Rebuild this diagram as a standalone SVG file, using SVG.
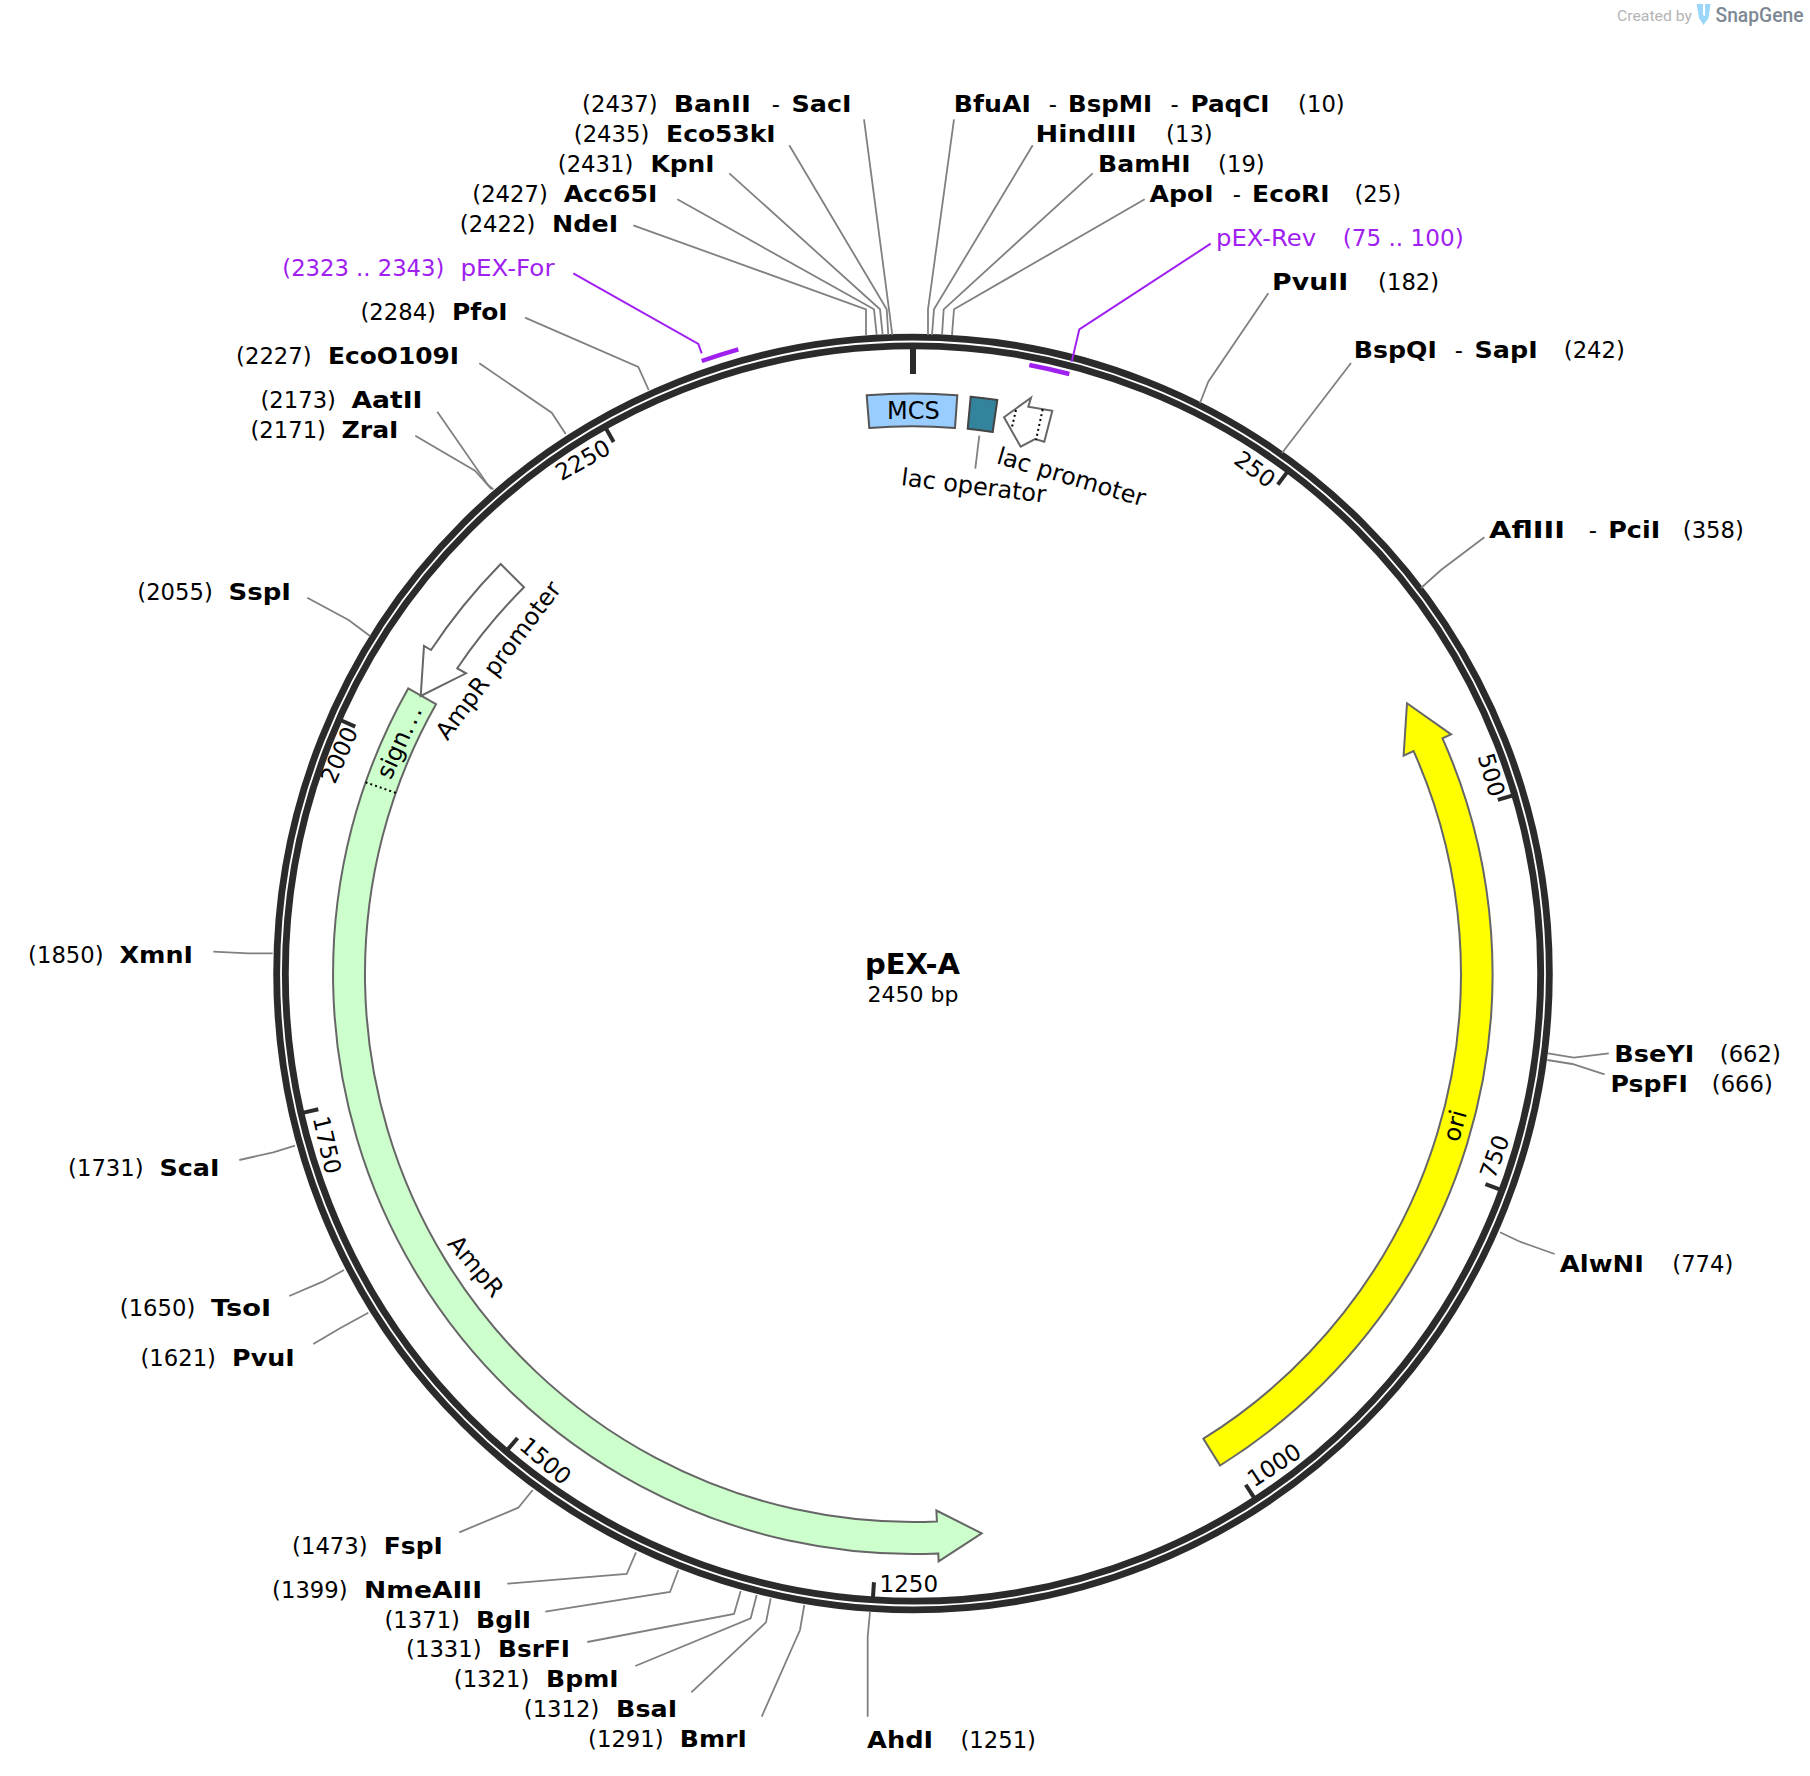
<svg xmlns="http://www.w3.org/2000/svg" width="1810" height="1776" viewBox="0 0 1810 1776">
<style>
text{font-family:"DejaVu Sans","Liberation Sans",sans-serif;font-size:22.7px;fill:#000}
.n{font-weight:700;font-size:23px}
.p{fill:#a020f0}
.m{text-anchor:middle}
.k{font-size:23px}
.t{font-size:24px}
.site{fill:none;stroke:#808080;stroke-width:1.8}
.prim{fill:none;stroke:#a020f0;stroke-width:2}
.bar{fill:none;stroke:#a020f0;stroke-width:4.5}
.ring{fill:none;stroke:#2b2b2b;stroke-width:15.5}
.gap{fill:none;stroke:#fff;stroke-width:1.8}
.tick{stroke:#2b2b2b;stroke-width:4}
.f{stroke:#666;stroke-width:2;stroke-linejoin:miter}
.dot{fill:none;stroke:#000;stroke-width:2;stroke-dasharray:2 3}
</style>
<rect width="1810" height="1776" fill="#fff"/>

<g id="logo">
<text x="1617" y="20.7" textLength="75" lengthAdjust="spacingAndGlyphs" style="font-family:Roboto,'Liberation Sans',sans-serif;font-size:15px;fill:#b4b4b4">Created by</text>
<path d="M1696.7 4H1703V15L1705 16V4H1710.5L1708.5 18L1703.5 25L1699 18Z" fill="#9ad6fa"/>
<text x="1715.5" y="22" textLength="88" lengthAdjust="spacingAndGlyphs" style="font-family:Roboto,'Liberation Sans',sans-serif;font-size:20px;font-weight:500;fill:#7d8894">SnapGene</text>
</g>

<g id="backbone">
<circle class="ring" cx="913" cy="973.5" r="632"/>
<circle class="gap" cx="913" cy="973.5" r="632"/>
<line x1="913" y1="348" x2="913" y2="374" stroke="#2b2b2b" stroke-width="6"/>
<line class="tick" x1="913" y1="348.5" x2="913" y2="363.5" transform="rotate(36.73 913 973.5)"/>
<line class="tick" x1="913" y1="348.5" x2="913" y2="363.5" transform="rotate(73.47 913 973.5)"/>
<line class="tick" x1="913" y1="348.5" x2="913" y2="363.5" transform="rotate(110.2 913 973.5)"/>
<line class="tick" x1="913" y1="348.5" x2="913" y2="363.5" transform="rotate(146.94 913 973.5)"/>
<line class="tick" x1="913" y1="348.5" x2="913" y2="363.5" transform="rotate(183.67 913 973.5)"/>
<line class="tick" x1="913" y1="348.5" x2="913" y2="363.5" transform="rotate(220.41 913 973.5)"/>
<line class="tick" x1="913" y1="348.5" x2="913" y2="363.5" transform="rotate(257.14 913 973.5)"/>
<line class="tick" x1="913" y1="348.5" x2="913" y2="363.5" transform="rotate(293.88 913 973.5)"/>
<line class="tick" x1="913" y1="348.5" x2="913" y2="363.5" transform="rotate(330.61 913 973.5)"/>
<text class="m k" y="8" transform="translate(1254.9 469.3) rotate(36.7)">250</text>
<text class="m k" y="8" transform="translate(1491.3 775) rotate(73.5)">500</text>
<text class="m k" y="8" transform="translate(1494.6 1156.7) rotate(-69.8)">750</text>
<text class="m k" y="8" transform="translate(1274.2 1465) rotate(-33)">1000</text>
<text class="m k" x="908.8" y="1591.7">1250</text>
<text class="m k" y="8" transform="translate(545.5 1461) rotate(40.4)">1500</text>
<text class="m k" y="8" transform="translate(327 1145) rotate(77.1)">1750</text>
<text class="m k" y="8" transform="translate(339.3 755) rotate(-66.1)">2000</text>
<text class="m k" y="8" transform="translate(582.7 460) rotate(-29.4)">2250</text>
</g>

<g id="title">
<text class="m n" x="912.5" y="974.3" style="font-size:29px">pEX-A</text>
<text class="m" x="913" y="1001.7" style="font-size:22px">2450 bp</text>
</g>

<g id="feature-ori">
<path class="f" fill="#ffff00" d="M1407 703.3L1451.1 734.4L1442.5 738.3A579.6 579.6 0 0 1 1220.1 1465.5L1203.4 1438.7A548 548 0 0 0 1413.6 751.1L1403.6 755.6Z"/>
<text class="m t" y="7" transform="translate(1456 1126) rotate(-74.4)">ori</text>
</g>

<g id="feature-AmpR">
<path class="f" fill="#ccffcc" d="M408.2 688.4A580 580 0 0 0 938.3 1553.4L938.6 1561.4L981.7 1533.3L936.4 1510.5L936.9 1521.5A548 548 0 0 1 436 704.2Z"/>
<path class="dot" d="M365.6 782.3L395.8 792.9"/>
<text class="m t" y="6" transform="translate(401.7 741.7) rotate(-65.6)">sign<tspan letter-spacing="2.5">...</tspan></text>
<text class="m t" y="7" transform="translate(475 1267) rotate(50)">AmpR</text>
</g>

<g id="feature-AmpR-promoter">
<path class="f" fill="#fff" d="M500.7 564L524 587.3A548 548 0 0 0 457.3 668.3L466 673.3L420.7 696L424 646L431 650A580 580 0 0 1 500.7 564Z"/>
<text class="m t" y="6" transform="translate(500 661.7) rotate(-53)">AmpR promoter</text>
</g>

<g id="feature-MCS">
<path d="M866.7 395.3A580 580 0 0 1 957.3 395.3L955 428A548 548 0 0 0 869.3 428Z" fill="#99ccff" stroke="#555" stroke-width="2"/>
<text class="m t" x="913.3" y="418.5">MCS</text>
</g>

<g id="feature-lac-operator">
<path d="M970.7 396.7A580 580 0 0 1 997.3 400L992.7 432A548 548 0 0 0 967.7 428.7Z" fill="#33839c" stroke="#444" stroke-width="2"/>
<text class="m t" y="6" transform="translate(973.5 488) rotate(7)">lac operator</text>
</g>

<g id="feature-lac-promoter">
<path class="f" fill="#fff" d="M1004 417.3L1031 397.7L1028.3 406.7L1052.3 410.7L1044.3 441.7L1035 439L1020.7 446.7Z"/>
<path class="dot" d="M1042.7 409.3L1036 440M1016 410L1011.7 428.3"/>
<text class="m t" y="6" transform="translate(1070.7 479) rotate(16.5)">lac promoter</text>
</g>

<g id="connectors">
<polyline class="site" points="864,119.3 889,309.3 892.3,335"/>
<polyline class="site" points="789.3,145.3 886.7,309.3 888.3,335"/>
<polyline class="site" points="729.3,173.3 880,309.3 882.7,335"/>
<polyline class="site" points="677.3,199.3 874,309.3 876.7,335"/>
<polyline class="site" points="633.3,225.3 866,309.3 866,335"/>
<polyline class="site" points="954,119.3 928,309.3 928,335"/>
<polyline class="site" points="1032.7,145.3 934,309.3 932,335"/>
<polyline class="site" points="1092.7,173.3 943.7,309.3 942,335"/>
<polyline class="site" points="1144.7,199.3 954,309.3 952,335"/>
<polyline class="site" points="1268.3,293.3 1208.3,381.7 1200,403"/>
<polyline class="site" points="1351,363 1282,453"/>
<polyline class="site" points="1484.4,537.3 1441,570 1421,588"/>
<polyline class="site" points="1608.8,1053.3 1573.8,1057.7 1548,1053.3"/>
<polyline class="site" points="1604.6,1074.3 1572.3,1064 1547.3,1060"/>
<polyline class="site" points="1554.6,1254 1520,1241.7 1500,1232.3"/>
<polyline class="site" points="867.7,1716.7 867.7,1636.7 870,1611.7"/>
<polyline class="site" points="761.7,1716.7 800,1630 804.3,1605"/>
<polyline class="site" points="691.3,1692.3 766,1622.3 770.7,1598.3"/>
<polyline class="site" points="635.3,1666 750.7,1618.3 756.7,1595"/>
<polyline class="site" points="587.3,1642 734,1614 740.7,1591"/>
<polyline class="site" points="545.3,1611.7 670,1592 678.3,1570"/>
<polyline class="site" points="507.3,1583.7 626.7,1574 636,1552.3"/>
<polyline class="site" points="459.3,1532.3 518.3,1507.7 532.7,1490"/>
<polyline class="site" points="313.3,1344 340,1328.3 368.3,1312.7"/>
<polyline class="site" points="289.3,1296 322.7,1281.7 344,1270"/>
<polyline class="site" points="239.3,1160 273.3,1152.3 295,1145.7"/>
<polyline class="site" points="213.3,951.7 248.3,953.3 272.7,953.3"/>
<polyline class="site" points="307.3,597.7 348.6,620 370,636"/>
<polyline class="site" points="415.3,435.7 475,470.7 491.7,489.3"/>
<polyline class="site" points="437.3,411.7 488,485 493.3,489.3"/>
<polyline class="site" points="479.3,363.3 551.7,412.7 565.7,434"/>
<polyline class="site" points="525,317.7 638.3,367 648.7,390"/>
<polyline class="prim" points="573.3,273.3 698.3,344 701.7,353.3"/>
<polyline class="prim" points="1210.7,243.7 1079.3,329.3 1071.7,361.7"/>
<polyline class="site" points="979.3,435.7 975.3,468.7"/>
</g>

<g id="primer-pEX-For">
<path class="bar" d="M701.7 361A648 648 0 0 1 738.3 349.3"/>
<text class="p" x="282.3" y="276" textLength="162" lengthAdjust="spacingAndGlyphs">(2323 .. 2343)</text>
<text class="p" x="460.5" y="276" textLength="94" lengthAdjust="spacingAndGlyphs">pEX-For</text>
</g>
<g id="primer-pEX-Rev">
<path class="bar" d="M1029.3 365A619.5 619.5 0 0 1 1069.3 374"/>
<text class="p" x="1216" y="246" textLength="100" lengthAdjust="spacingAndGlyphs">pEX-Rev</text>
<text class="p" x="1342.7" y="246" textLength="121" lengthAdjust="spacingAndGlyphs">(75 .. 100)</text>
</g>

<g id="site-labels" transform="translate(-1.2 0)">
<g id="site-2437">
<text x="583.3" y="111.7">(2437)</text>
<text class="n" x="675" y="111.7" textLength="77" lengthAdjust="spacingAndGlyphs">BanII</text>
<text x="773" y="111.7">-</text>
<text class="n" x="792.7" y="111.7" textLength="60" lengthAdjust="spacingAndGlyphs">SacI</text>
</g>
<g id="site-2435">
<text x="575" y="141.7">(2435)</text>
<text class="n" x="667.3" y="141.7" textLength="109.5" lengthAdjust="spacingAndGlyphs">Eco53kI</text>
</g>
<g id="site-2431">
<text x="559" y="171.7">(2431)</text>
<text class="n" x="651.7" y="171.7" textLength="64" lengthAdjust="spacingAndGlyphs">KpnI</text>
</g>
<g id="site-2427">
<text x="473.5" y="201.7">(2427)</text>
<text class="n" x="565" y="201.7" textLength="93.5" lengthAdjust="spacingAndGlyphs">Acc65I</text>
</g>
<g id="site-2422">
<text x="461" y="231.7">(2422)</text>
<text class="n" x="553.3" y="231.7" textLength="66" lengthAdjust="spacingAndGlyphs">NdeI</text>
</g>
<g id="site-10">
<text class="n" x="955" y="111.7" textLength="77" lengthAdjust="spacingAndGlyphs">BfuAI</text>
<text x="1050" y="111.7">-</text>
<text class="n" x="1069.3" y="111.7" textLength="84" lengthAdjust="spacingAndGlyphs">BspMI</text>
<text x="1171.7" y="111.7">-</text>
<text class="n" x="1191.7" y="111.7" textLength="79" lengthAdjust="spacingAndGlyphs">PaqCI</text>
<text x="1299.3" y="111.7">(10)</text>
</g>
<g id="site-13">
<text class="n" x="1036.7" y="141.7" textLength="101" lengthAdjust="spacingAndGlyphs">HindIII</text>
<text x="1167.3" y="141.7">(13)</text>
</g>
<g id="site-19">
<text class="n" x="1099.3" y="171.7" textLength="92.5" lengthAdjust="spacingAndGlyphs">BamHI</text>
<text x="1219.3" y="171.7">(19)</text>
</g>
<g id="site-25">
<text class="n" x="1150.7" y="201.7" textLength="64" lengthAdjust="spacingAndGlyphs">ApoI</text>
<text x="1234" y="201.7">-</text>
<text class="n" x="1253.3" y="201.7" textLength="77.5" lengthAdjust="spacingAndGlyphs">EcoRI</text>
<text x="1355.7" y="201.7">(25)</text>
</g>
<g id="site-182">
<text class="n" x="1273.3" y="290" textLength="76" lengthAdjust="spacingAndGlyphs">PvuII</text>
<text x="1379.3" y="290">(182)</text>
</g>
<g id="site-242">
<text class="n" x="1355" y="358" textLength="83" lengthAdjust="spacingAndGlyphs">BspQI</text>
<text x="1456" y="358">-</text>
<text class="n" x="1475.8" y="358" textLength="63" lengthAdjust="spacingAndGlyphs">SapI</text>
<text x="1565" y="358">(242)</text>
</g>
<g id="site-358">
<text class="n" x="1490.3" y="538" textLength="76" lengthAdjust="spacingAndGlyphs">AflIII</text>
<text x="1590" y="538">-</text>
<text class="n" x="1609.4" y="538" textLength="52" lengthAdjust="spacingAndGlyphs">PciI</text>
<text x="1684" y="538">(358)</text>
</g>
<g id="site-662">
<text class="n" x="1615.5" y="1061.7" textLength="80" lengthAdjust="spacingAndGlyphs">BseYI</text>
<text x="1721" y="1061.7">(662)</text>
</g>
<g id="site-666">
<text class="n" x="1611.7" y="1091.7" textLength="77.5" lengthAdjust="spacingAndGlyphs">PspFI</text>
<text x="1713" y="1091.7">(666)</text>
</g>
<g id="site-774">
<text class="n" x="1561" y="1271.7" textLength="84" lengthAdjust="spacingAndGlyphs">AlwNI</text>
<text x="1673.5" y="1271.7">(774)</text>
</g>
<g id="site-1251">
<text class="n" x="868.3" y="1747.7" textLength="66" lengthAdjust="spacingAndGlyphs">AhdI</text>
<text x="961.7" y="1747.7">(1251)</text>
</g>
<g id="site-1291">
<text x="589.3" y="1747.3">(1291)</text>
<text class="n" x="681" y="1747.3" textLength="67" lengthAdjust="spacingAndGlyphs">BmrI</text>
</g>
<g id="site-1312">
<text x="525" y="1717.3">(1312)</text>
<text class="n" x="617.3" y="1717.3" textLength="61" lengthAdjust="spacingAndGlyphs">BsaI</text>
</g>
<g id="site-1321">
<text x="455" y="1687.3">(1321)</text>
<text class="n" x="547.3" y="1687.3" textLength="72.5" lengthAdjust="spacingAndGlyphs">BpmI</text>
</g>
<g id="site-1331">
<text x="407.3" y="1657.3">(1331)</text>
<text class="n" x="499.3" y="1657.3" textLength="72" lengthAdjust="spacingAndGlyphs">BsrFI</text>
</g>
<g id="site-1371">
<text x="385.7" y="1628">(1371)</text>
<text class="n" x="477.3" y="1628" textLength="55" lengthAdjust="spacingAndGlyphs">BglI</text>
</g>
<g id="site-1399">
<text x="273.3" y="1597.7">(1399)</text>
<text class="n" x="365.3" y="1597.7" textLength="118" lengthAdjust="spacingAndGlyphs">NmeAIII</text>
</g>
<g id="site-1473">
<text x="293.3" y="1554">(1473)</text>
<text class="n" x="385" y="1554" textLength="59" lengthAdjust="spacingAndGlyphs">FspI</text>
</g>
<g id="site-1621">
<text x="141.7" y="1365.7">(1621)</text>
<text class="n" x="233.3" y="1365.7" textLength="62.5" lengthAdjust="spacingAndGlyphs">PvuI</text>
</g>
<g id="site-1650">
<text x="121" y="1315.7">(1650)</text>
<text class="n" x="212.3" y="1315.7" textLength="60" lengthAdjust="spacingAndGlyphs">TsoI</text>
</g>
<g id="site-1731">
<text x="69.3" y="1175.7">(1731)</text>
<text class="n" x="160.7" y="1175.7" textLength="60" lengthAdjust="spacingAndGlyphs">ScaI</text>
</g>
<g id="site-1850">
<text x="29.3" y="963.3">(1850)</text>
<text class="n" x="120.7" y="963.3" textLength="73.5" lengthAdjust="spacingAndGlyphs">XmnI</text>
</g>
<g id="site-2055">
<text x="138.5" y="599.5">(2055)</text>
<text class="n" x="229.7" y="599.5" textLength="62.5" lengthAdjust="spacingAndGlyphs">SspI</text>
</g>
<g id="site-2171">
<text x="251.7" y="438">(2171)</text>
<text class="n" x="342.7" y="438" textLength="57" lengthAdjust="spacingAndGlyphs">ZraI</text>
</g>
<g id="site-2173">
<text x="261.7" y="407.7">(2173)</text>
<text class="n" x="352.7" y="407.7" textLength="71" lengthAdjust="spacingAndGlyphs">AatII</text>
</g>
<g id="site-2227">
<text x="237.3" y="364">(2227)</text>
<text class="n" x="329.3" y="364" textLength="131" lengthAdjust="spacingAndGlyphs">EcoO109I</text>
</g>
<g id="site-2284">
<text x="361.7" y="320">(2284)</text>
<text class="n" x="453.3" y="320" textLength="55.5" lengthAdjust="spacingAndGlyphs">PfoI</text>
</g>
</g>
</svg>
